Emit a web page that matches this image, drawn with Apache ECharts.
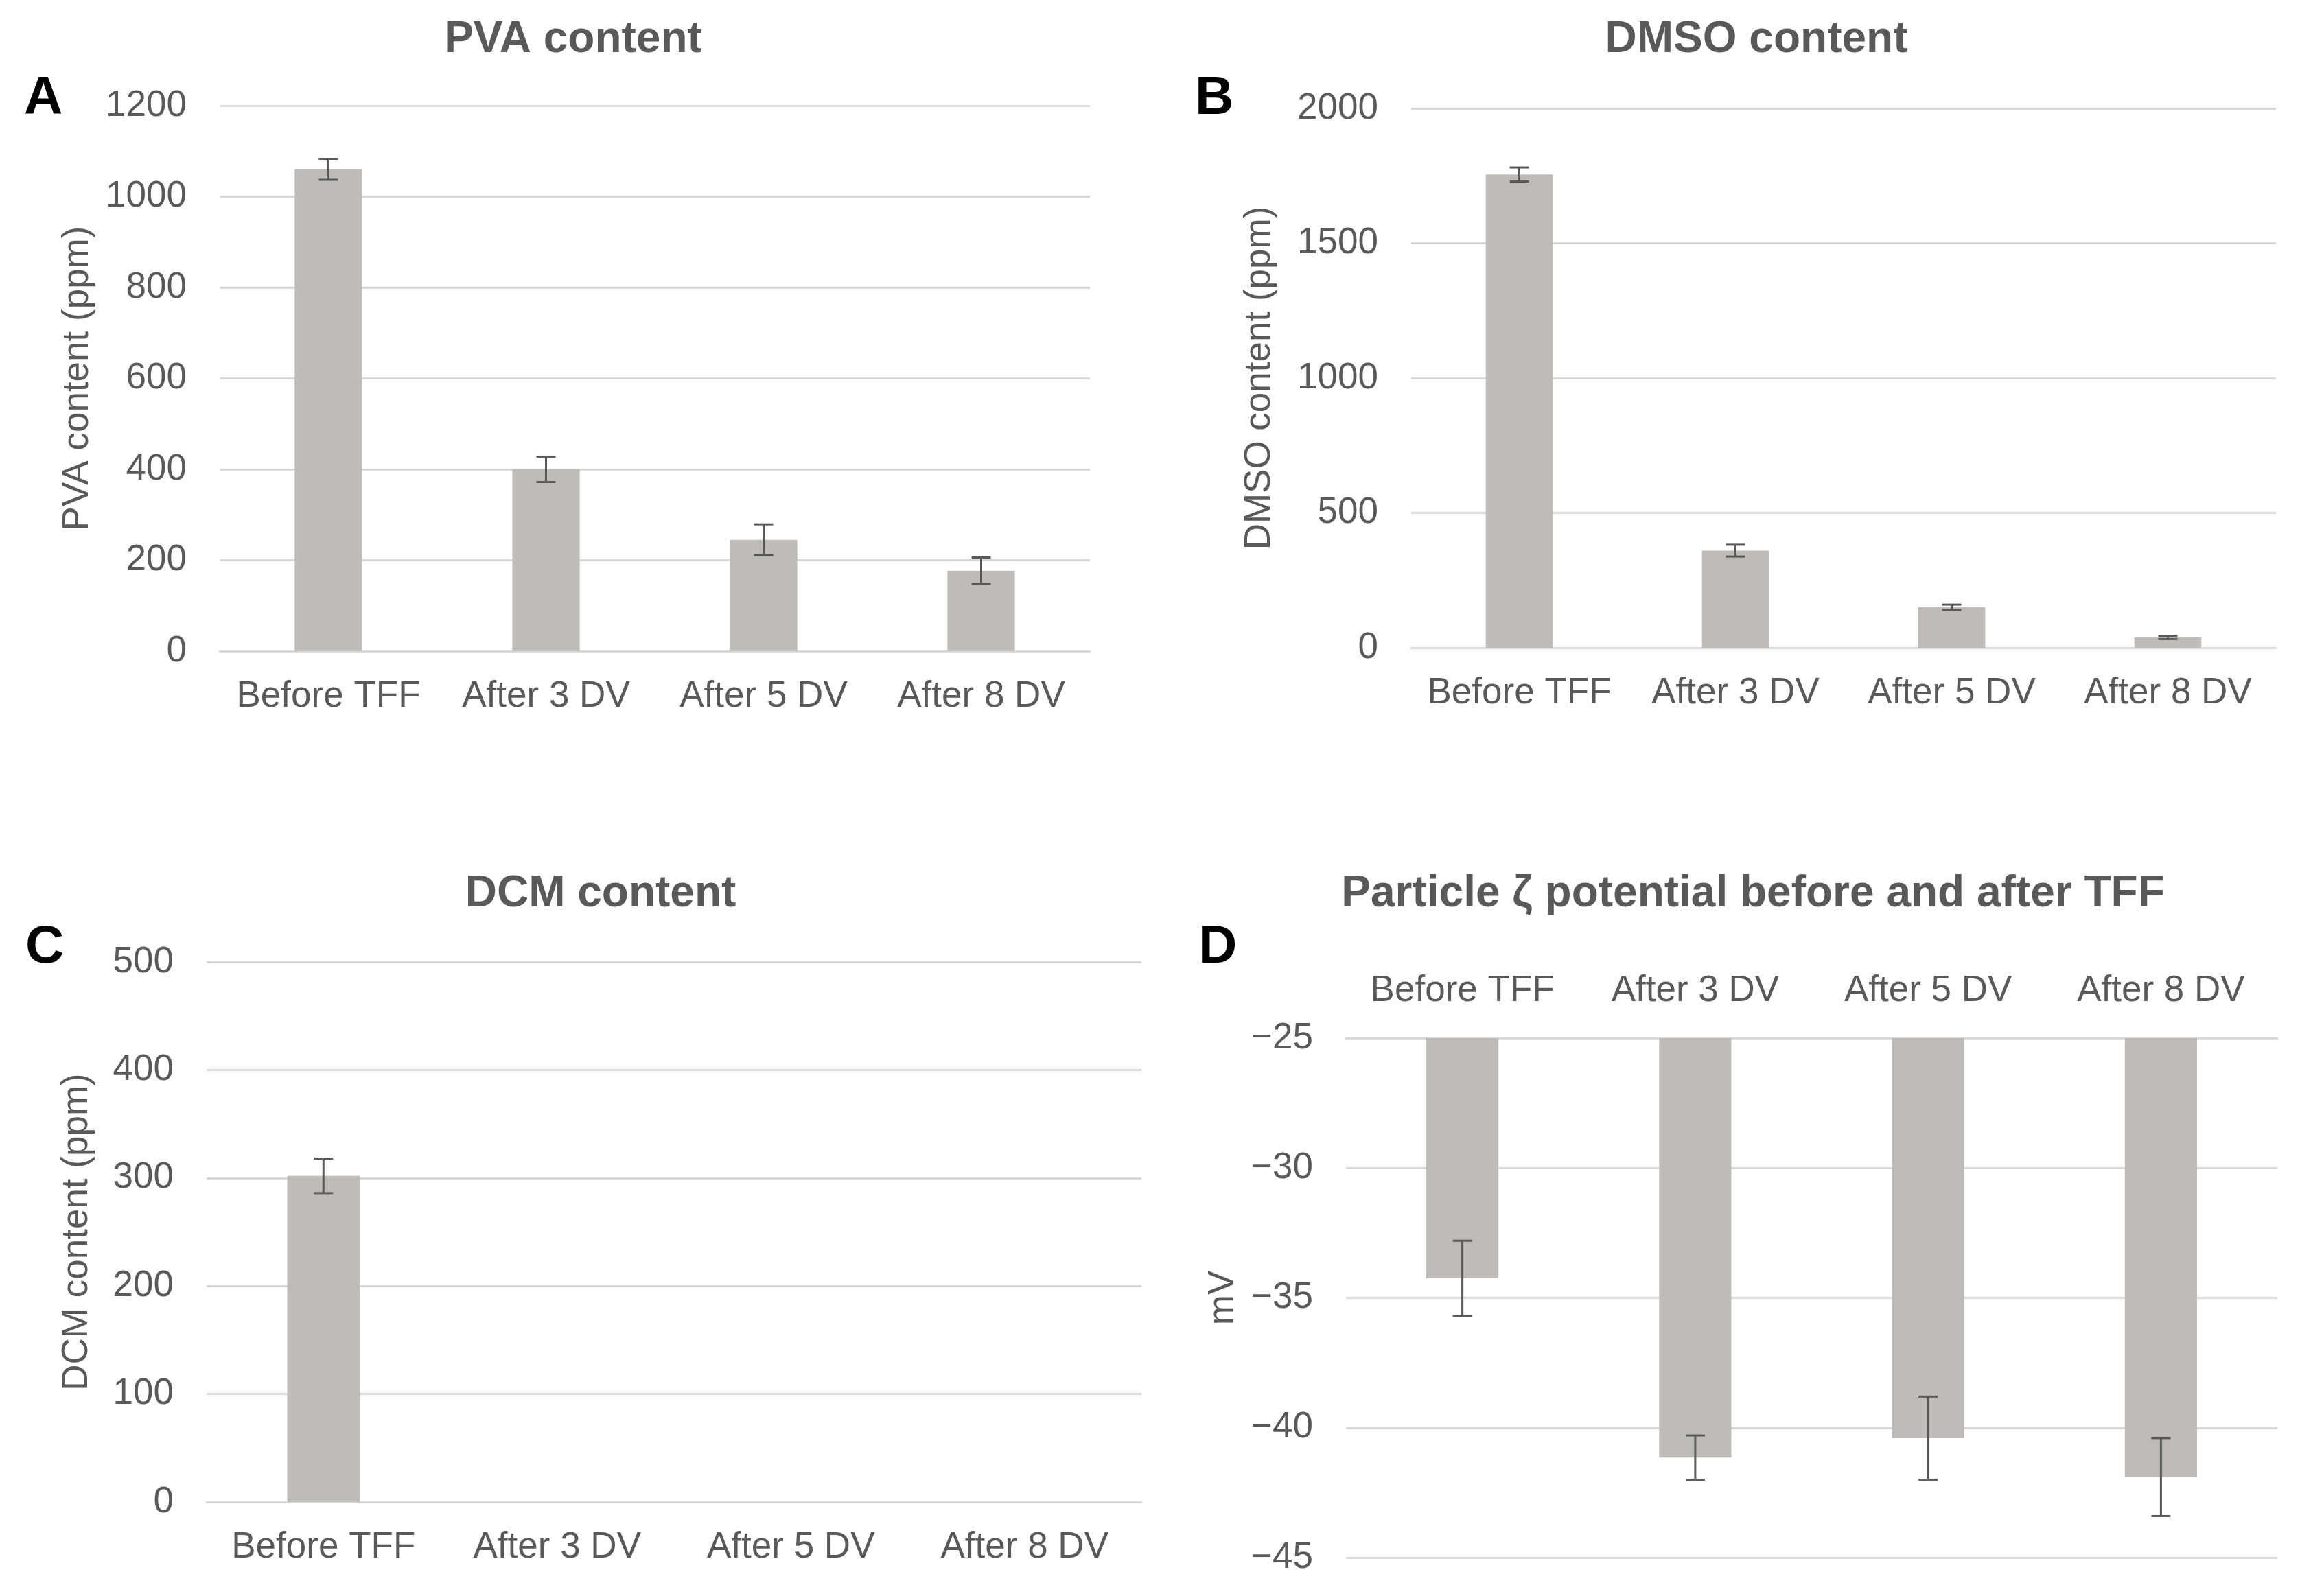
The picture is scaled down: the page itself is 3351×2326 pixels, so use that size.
<!DOCTYPE html>
<html>
<head>
<meta charset="utf-8">
<script src="https://cdn.jsdelivr.net/npm/echarts@6/dist/echarts.min.js"></script>
<style>
  html, body { margin: 0; padding: 0; background: #fff; }
  #main { width: 3351px; height: 2326px; }
</style>
</head>
<body>
<div id="main"></div>
<script>
// data
var categories = ['Before TFF', 'After 3 DV', 'After 5 DV', 'After 8 DV'];
var pvaMean = [1060, 400, 245, 177];
var pvaErr = [23, 28, 34, 29];
var dmsoMean = [1755, 360, 150, 38];
var dmsoErr = [26, 22, 10, 6];
var dcmMean = [302, 0, 0, 0];
var dcmErr = [16, 0, 0, 0];
var zetaMean = [-34.25, -41.15, -40.4, -41.9];
var zetaErr = [1.45, 0.85, 1.6, 1.5];

var FONT = '"Liberation Sans", Arial, sans-serif';
var TXT = '#595959';
var GRIDC = '#d9d9d9';
var BARC = '#bfbcb7';

var myChart = echarts.init(document.getElementById('main'), null, {renderer: 'canvas'});

// error bars through the axis scales
function errData(mean, err) {
    var out = [];
    for (var i = 0; i < mean.length; i++) {
        if (err[i] > 0) out.push([i, mean[i] - err[i], mean[i] + err[i]]);
    }
    return out;
}
function errRender(params, api) {
    var lo = api.coord([api.value(0), api.value(1)]);
    var hi = api.coord([api.value(0), api.value(2)]);
    var half = 14;
    var st = {stroke: '#595959', lineWidth: 3};
    return {
        type: 'group',
        children: [
            {type: 'line', shape: {x1: lo[0], y1: lo[1], x2: hi[0], y2: hi[1]}, style: st},
            {type: 'line', shape: {x1: lo[0] - half, y1: lo[1], x2: lo[0] + half, y2: lo[1]}, style: st},
            {type: 'line', shape: {x1: hi[0] - half, y1: hi[1], x2: hi[0] + half, y2: hi[1]}, style: st}
        ]
    };
}

var panels = [
    {title: 'PVA content', letter: 'A', tx: 830, ty: 21, lx: 30, ly: 100,
     left: 320, top: 154, width: 1268, height: 795,
     yname: 'PVA content (ppm)', gap: 180, min: 0, max: 1200, interval: 200,
     mean: pvaMean, err: pvaErr, top_axis: false},
    {title: 'DMSO content', letter: 'B', tx: 2554, ty: 21, lx: 1736, ly: 100,
     left: 2056, top: 158, width: 1260, height: 786,
     yname: 'DMSO content (ppm)', gap: 194, min: 0, max: 2000, interval: 500,
     mean: dmsoMean, err: dmsoErr, top_axis: false},
    {title: 'DCM content', letter: 'C', tx: 870, ty: 1266, lx: 32, ly: 1337,
     left: 301, top: 1402, width: 1362, height: 787,
     yname: 'DCM content (ppm)', gap: 162, min: 0, max: 500, interval: 100,
     mean: dcmMean, err: dcmErr, top_axis: false},
    {title: 'Particle ζ potential before and after TFF', letter: 'D', tx: 2549, ty: 1266, lx: 1741, ly: 1337,
     left: 1961, top: 1513, width: 1357, height: 757,
     yname: 'mV', gap: 152, min: -45, max: -25, interval: 5,
     mean: zetaMean, err: zetaErr, top_axis: true}
];

var option = {
    backgroundColor: '#fff',
    animation: false,
    title: [],
    grid: [],
    xAxis: [],
    yAxis: [],
    series: []
};

panels.forEach(function (p, i) {
    option.title.push({
        text: p.title, left: p.tx, top: p.ty, textAlign: 'center',
        textStyle: {fontFamily: FONT, fontSize: 64, fontWeight: 'bold', color: TXT}
    });
    option.title.push({
        text: p.letter, left: p.lx, top: p.ly,
        textStyle: {fontFamily: FONT, fontSize: 78, fontWeight: 'bold', color: '#000'}
    });
    option.grid.push({left: p.left, top: p.top, width: p.width, height: p.height, containLabel: false});
    option.xAxis.push({
        type: 'category', gridIndex: i, data: categories,
        position: p.top_axis ? 'top' : 'bottom',
        axisLine: {show: true, lineStyle: {color: GRIDC, width: 3}},
        axisTick: {show: false},
        axisLabel: {interval: 0, color: TXT, fontFamily: FONT, fontSize: 53, margin: p.top_axis ? 42 : 40}
    });
    option.yAxis.push({
        type: 'value', gridIndex: i, min: p.min, max: p.max, interval: p.interval,
        name: p.yname, nameLocation: 'middle', nameGap: p.gap, nameRotate: 90,
        nameTextStyle: {color: TXT, fontFamily: FONT, fontSize: 53},
        axisLine: {show: false}, axisTick: {show: false},
        axisLabel: {
            color: TXT, fontFamily: FONT, fontSize: 53, margin: 48,
            formatter: function (v) { return String(v).replace('-', '\u2212'); }
        },
        splitLine: {show: true, lineStyle: {color: GRIDC, width: 3}}
    });
    option.series.push({
        type: 'bar', xAxisIndex: i, yAxisIndex: i, data: p.mean,
        barWidth: '31%', clip: true,
        itemStyle: {color: BARC}
    });
    option.series.push({
        type: 'custom', xAxisIndex: i, yAxisIndex: i,
        data: errData(p.mean, p.err), renderItem: errRender, z: 5, clip: false
    });
});

myChart.setOption(option);
</script>
</body>
</html>
